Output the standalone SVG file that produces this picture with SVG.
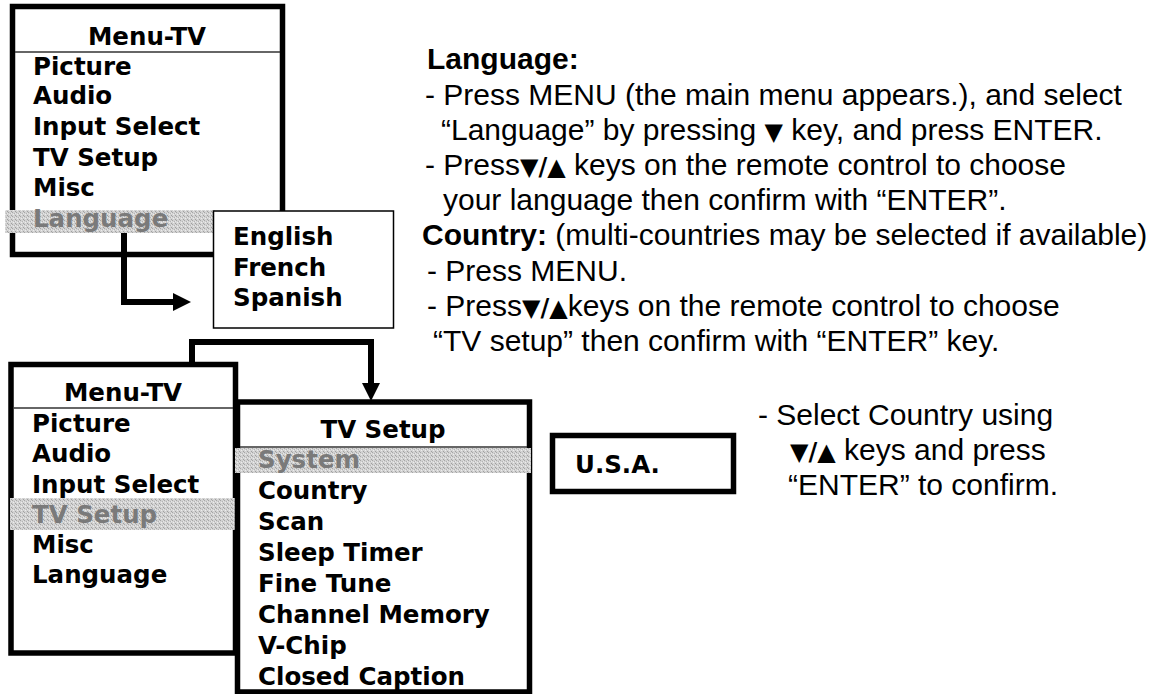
<svg xmlns="http://www.w3.org/2000/svg" width="1155" height="694" viewBox="0 0 1155 694">
<style>
.box{fill:#fff;stroke:#000;stroke-width:5.5}
.thin{fill:#fff;stroke:#000;stroke-width:1.5}
.hdr{stroke:#333;stroke-width:1.5}
.m{font-family:"DejaVu Sans",Verdana,sans-serif;font-weight:bold;font-size:24.5px;fill:#000}
.g{fill:#7a7a7a}
.t{font-family:"Liberation Sans",Arial,sans-serif;font-size:30px;fill:#000}
.b{font-weight:bold}
.k{font-family:"DejaVu Sans",sans-serif;font-size:24px;font-weight:bold}
.con{fill:none;stroke:#000;stroke-width:6;stroke-linejoin:miter}
</style>
<defs>
<pattern id="dither" patternUnits="userSpaceOnUse" width="4" height="4">
<rect width="4" height="4" fill="#d2d2d2"/>
<rect x="0" y="0" width="1" height="1" fill="#a6a6a6"/>
<rect x="2" y="1" width="1" height="1" fill="#b4b4b4"/>
<rect x="1" y="2" width="1" height="1" fill="#ececec"/>
<rect x="3" y="3" width="1" height="1" fill="#a0a0a0"/>
<rect x="3" y="1" width="1" height="1" fill="#e6e6e6"/>
</pattern>
</defs>
<rect width="1155" height="694" fill="#fff"/>

<g id="menu-tv-1">
<rect class="box" x="12.5" y="6.5" width="270" height="248"/>
<line class="hdr" x1="15" y1="52" x2="280" y2="52"/>
<text class="m" x="147" y="45" text-anchor="middle">Menu-TV</text>
<text class="m" x="33" y="75">Picture</text>
<text class="m" x="33" y="104">Audio</text>
<text class="m" x="33" y="135">Input Select</text>
<text class="m" x="33" y="166">TV Setup</text>
<text class="m" x="33" y="196">Misc</text>
<rect x="5" y="210" width="210" height="23" fill="url(#dither)"/>
<text class="m g" x="33" y="227">Language</text>
</g>

<g id="language-list">
<rect class="thin" x="213.5" y="211" width="180" height="117"/>
<text class="m" x="233" y="245">English</text>
<text class="m" x="233" y="276">French</text>
<text class="m" x="233" y="306">Spanish</text>
</g>

<g id="menu-tv-2">
<rect class="box" x="11" y="364.5" width="224.5" height="288.5"/>
<line class="hdr" x1="14" y1="408" x2="233" y2="408"/>
<text class="m" x="123" y="401" text-anchor="middle">Menu-TV</text>
<text class="m" x="32" y="432">Picture</text>
<text class="m" x="32" y="462">Audio</text>
<text class="m" x="32" y="493">Input Select</text>
<rect x="10" y="498" width="227" height="32" fill="url(#dither)"/>
<text class="m g" x="32" y="523">TV Setup</text>
<text class="m" x="32" y="553">Misc</text>
<text class="m" x="32" y="583">Language</text>
</g>

<g id="tv-setup">
<rect class="box" x="237.5" y="402" width="292" height="290"/>
<line class="hdr" x1="240" y1="447" x2="527" y2="447"/>
<text class="m" x="383" y="438" text-anchor="middle">TV Setup</text>
<rect x="235" y="448" width="296" height="25" fill="url(#dither)"/>
<text class="m g" x="258" y="468">System</text>
<text class="m" x="258" y="499">Country</text>
<text class="m" x="258" y="530">Scan</text>
<text class="m" x="258" y="561">Sleep Timer</text>
<text class="m" x="258" y="592">Fine Tune</text>
<text class="m" x="258" y="623">Channel Memory</text>
<text class="m" x="258" y="654">V-Chip</text>
<text class="m" x="258" y="685">Closed Caption</text>
</g>

<g id="usa">
<rect class="box" x="552.5" y="435.5" width="181" height="56"/>
<text class="m" x="575" y="473">U.S.A.</text>
</g>

<g id="connectors">
<path class="con" d="M124,233 V302 H175"/>
<polygon points="173,293 191,302 173,311" fill="#000"/>
<path class="con" d="M192,365 V342 H371 V385"/>
<polygon points="362,383 380,383 371,401" fill="#000"/>
</g>

<g id="instructions">
<text class="t b" x="427" y="69">Language:</text>
<text class="t" x="425" y="105">- Press MENU (the main menu appears.), and select</text>
<text class="t" x="441" y="140">“Language” by pressing <tspan class="k">▼</tspan> key, and press ENTER.</text>
<text class="t" x="425" y="175">- Press<tspan class="k">▼/▲</tspan> keys on the remote control to choose</text>
<text class="t" x="443" y="210">your language then confirm with “ENTER”.</text>
<text class="t" x="422" y="245"><tspan class="b">Country:</tspan> (multi-countries may be selected if available)</text>
<text class="t" x="427" y="281">- Press MENU.</text>
<text class="t" x="427" y="316">- Press<tspan class="k">▼/▲</tspan>keys on the remote control to choose</text>
<text class="t" x="433" y="351">“TV setup” then confirm with “ENTER” key.</text>
</g>

<g id="country-instructions">
<text class="t" x="758" y="425">- Select Country using</text>
<text class="t" x="790" y="460"><tspan class="k">▼/▲</tspan>  keys and press</text>
<text class="t" x="788" y="495">“ENTER” to confirm.</text>
</g>
</svg>
